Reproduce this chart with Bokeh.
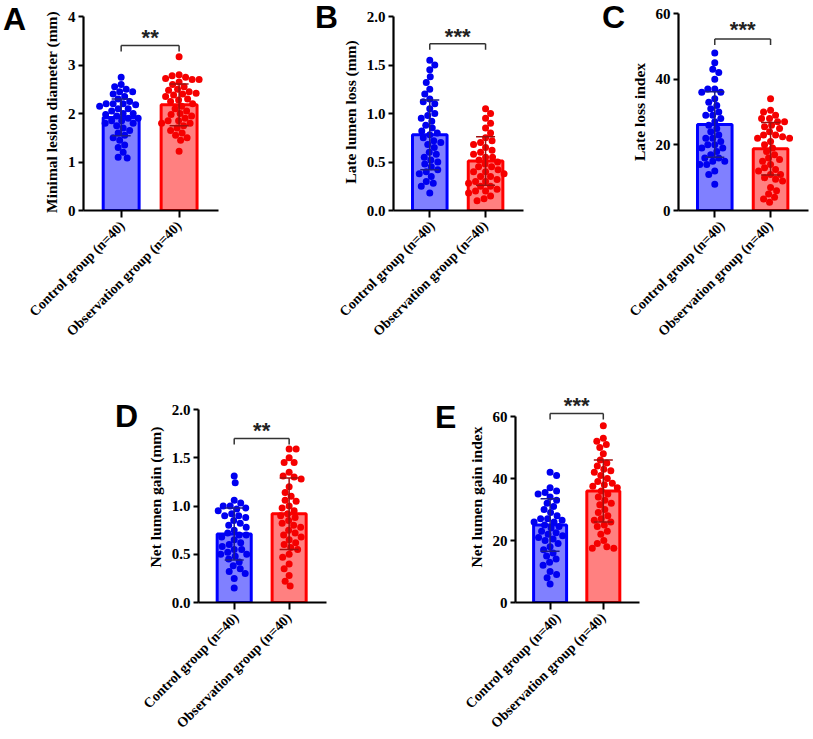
import math

from bokeh.core.properties import value
from bokeh.embed import file_html
from bokeh.layouts import column, row
from bokeh.models import Div, FixedTicker, Range1d
from bokeh.plotting import figure
from bokeh.resources import INLINE

# group names shared by every panel
groups = ["Control group (n=40)", "Observation group (n=40)"]
panel_letters = ["A", "B", "C", "D", "E"]
y_titles = ["Minimal lesion diameter (mm)", "Late lumen loss (mm)", "Late loss index",
            "Net lumen gain (mm)", "Net lumen gain index"]

# A: minimal lesion diameter (mm)
a_control = [2.75, 2.6, 2.55, 2.5, 2.45, 2.45, 2.4, 2.35, 2.3, 2.25,
             2.2, 2.2, 2.2, 2.18, 2.15, 2.1, 2.1, 2.05, 2.0, 2.0,
             1.98, 1.95, 1.9, 1.9, 1.85, 1.85, 1.8, 1.8, 1.75, 1.7,
             1.65, 1.6, 1.55, 1.5, 1.45, 1.35, 1.3, 1.2, 1.1, 1.08]
a_observation = [3.17, 2.8, 2.78, 2.75, 2.72, 2.7, 2.7, 2.65, 2.6, 2.55,
                 2.5, 2.48, 2.45, 2.42, 2.4, 2.38, 2.35, 2.3, 2.28, 2.25,
                 2.2, 2.15, 2.1, 2.05, 2.0, 1.98, 1.95, 1.9, 1.85, 1.85,
                 1.8, 1.8, 1.75, 1.7, 1.65, 1.6, 1.55, 1.5, 1.45, 1.22]
a_means = [1.92, 2.18]
a_sds = [0.38, 0.43]

# B: late lumen loss (mm)
b_control = [1.55, 1.5, 1.45, 1.38, 1.32, 1.25, 1.2, 1.15, 1.12, 1.1,
             1.05, 1.0, 0.98, 0.95, 0.92, 0.88, 0.85, 0.82, 0.8, 0.78,
             0.75, 0.72, 0.7, 0.68, 0.65, 0.6, 0.58, 0.55, 0.52, 0.5,
             0.48, 0.45, 0.42, 0.4, 0.38, 0.35, 0.3, 0.28, 0.25, 0.18]
b_observation = [1.05, 1.0, 0.95, 0.9, 0.85, 0.8, 0.75, 0.72, 0.7, 0.68,
                 0.65, 0.62, 0.6, 0.58, 0.55, 0.55, 0.52, 0.5, 0.48, 0.45,
                 0.45, 0.42, 0.4, 0.4, 0.38, 0.35, 0.35, 0.32, 0.3, 0.3,
                 0.28, 0.25, 0.25, 0.22, 0.2, 0.2, 0.18, 0.15, 0.12, 0.1]
b_means = [0.78, 0.51]
b_sds = [0.36, 0.25]

# C: late loss index
c_control = [48, 45, 43, 42, 40, 37, 37, 36, 36, 34,
             33, 32, 31, 30, 29, 29, 28, 27, 26, 25,
             24, 23, 22, 22, 21, 20, 20, 19, 19, 18,
             17, 16, 16, 15, 15, 14, 14, 12, 11, 8]
c_observation = [34, 30.5, 30, 29, 28, 28, 27, 27, 26, 25.5,
                 25, 24, 23, 23, 22.5, 22, 22, 21, 20, 19,
                 18, 17, 16, 15.5, 15, 14, 13, 12.5, 12, 11,
                 11, 10, 9.5, 9, 7, 6, 5, 4, 3.5, 2.5]
c_means = [26.2, 18.8]
c_sds = [10.0, 8.0]

# D: net lumen gain (mm)
d_control = [1.31, 1.24, 1.06, 1.03, 1.0, 1.0, 0.98, 0.97, 0.95, 0.92,
             0.9, 0.9, 0.88, 0.85, 0.82, 0.8, 0.78, 0.75, 0.72, 0.7,
             0.7, 0.68, 0.65, 0.62, 0.6, 0.58, 0.55, 0.55, 0.52, 0.5,
             0.5, 0.48, 0.45, 0.42, 0.38, 0.35, 0.32, 0.3, 0.25, 0.15]
d_observation = [1.59, 1.59, 1.5, 1.45, 1.45, 1.35, 1.31, 1.3, 1.28, 1.2,
                 1.14, 1.1, 1.06, 1.05, 1.0, 0.98, 0.95, 0.92, 0.9, 0.88,
                 0.85, 0.82, 0.8, 0.78, 0.75, 0.72, 0.7, 0.68, 0.65, 0.62,
                 0.6, 0.57, 0.55, 0.5, 0.47, 0.4, 0.35, 0.28, 0.22, 0.17]
d_means = [0.71, 0.92]
d_sds = [0.27, 0.37]

# E: net lumen gain index
e_control = [42, 41, 37, 36, 35.5, 35, 34, 33, 32, 31,
             30, 29, 28, 27, 27, 26.5, 26, 26, 25, 24.5,
             24, 23, 22.5, 22, 21.5, 21, 20.5, 20, 19, 18,
             17, 16, 15, 14, 13, 12, 10, 9, 8, 6]
e_observation = [57, 53, 52, 51, 50, 48, 46, 45, 44, 43,
                 42.5, 42, 41, 40, 39, 38.5, 38, 37.5, 37, 36,
                 35, 34, 33, 32, 31.5, 30, 29, 28, 27, 26.5,
                 26, 25, 24.5, 23, 22, 20, 19, 18, 17.5, 17.5]
e_means = [25.0, 36.0]
e_sds = [8.5, 10.0]

# axis ticks and labels
ticks_mm4 = [0, 1, 2, 3, 4]
labels_mm4 = ["0", "1", "2", "3", "4"]
ticks_mm2 = [0, 0.5, 1.0, 1.5, 2.0]
labels_mm2 = ["0.0", "0.5", "1.0", "1.5", "2.0"]
ticks_idx = [0, 20, 40, 60]
labels_idx = ["0", "20", "40", "60"]

# significance marks and bracket heights
sig_marks = ["**", "***", "***", "**", "***"]
bracket_y = [3.4, 1.72, 52.2, 1.70, 61.0]
star_y = [3.64, 1.84, 56.2, 1.82, 64.8]

BAR_FILL = ["#8080ff", "#ff8080"]
BAR_LINE = ["#0000ff", "#ff0000"]
DOT = ["#0000f0", "#f50000"]
ERR = ["#1c1c8c", "#a01010"]
SERIF = "Liberation Serif"
SANS = "Liberation Sans"
X0, X1 = 0.35, 2.68


def swarm_offsets(vals, x_px, y_px, diam=6.8):
    # simple beeswarm: nearest free horizontal spot for each dot, in pixels
    placed = []
    out = []
    for i, v in enumerate(vals):
        yp = v * y_px
        found = None
        k = 0
        while found is None:
            cands = [0.0] if k == 0 else ([k * 0.5, -k * 0.5] if i % 2 else [-k * 0.5, k * 0.5])
            for s in cands:
                if all((s - px) ** 2 + (yp - py) ** 2 >= diam * diam for px, py in placed):
                    found = s
                    break
            k += 1
        placed.append((found, yp))
        out.append(found / x_px)
    return out


def letter_div(letter, w, h, ml, mt):
    html = ('<div style="margin:%dpx 0 0 %dpx;font:bold 32px \'Liberation Sans\',Arial,sans-serif;'
            'line-height:32px;color:#000;">%s</div>' % (mt, ml, letter))
    return Div(text=html, width=w, height=h, margin=0)


def make_panel(ylabel, control, observation, means, sds, ticks, labels,
               axis_top, y_end, sig, b_y, s_y, geo):
    w, h, left, top, fr_w, fr_h = geo
    p = figure(width=w, height=h, x_range=Range1d(X0, X1), y_range=Range1d(0, y_end),
               output_backend="svg", toolbar_location=None,
               min_border_left=left, min_border_top=top,
               min_border_right=w - left - fr_w, min_border_bottom=h - top - fr_h)
    p.xgrid.visible = False
    p.ygrid.visible = False
    p.outline_line_color = None

    x_px = fr_w / (X1 - X0)
    y_px = fr_h / y_end

    p.vbar(x=[1, 2], top=means, width=0.62, fill_color=BAR_FILL,
           line_color=BAR_LINE, line_width=3)

    for g, vals in enumerate([control, observation]):
        xs = [g + 1 + o for o in swarm_offsets(vals, x_px, y_px)]
        p.scatter(xs, vals, size=7, fill_color=DOT[g], line_color=None)

    lo = [m - s for m, s in zip(means, sds)]
    hi = [m + s for m, s in zip(means, sds)]
    cap = 9.5 / x_px
    p.segment(x0=[1, 2], y0=lo, x1=[1, 2], y1=hi, line_color=ERR, line_width=1.5)
    p.segment(x0=[1 - cap, 2 - cap], y0=hi, x1=[1 + cap, 2 + cap], y1=hi,
              line_color=ERR, line_width=1.5)
    p.segment(x0=[1 - cap, 2 - cap], y0=lo, x1=[1 + cap, 2 + cap], y1=lo,
              line_color=ERR, line_width=1.5)

    # significance bracket
    tick = 6 / y_px
    p.segment(x0=[1, 1, 2], y0=[b_y, b_y, b_y], x1=[2, 1, 2], y1=[b_y, b_y - tick, b_y - tick],
              line_color="#333333", line_width=1.5)
    p.text(x=[1.5], y=[s_y - 4 / y_px], text=[sig], text_font=value(SANS),
           text_font_style="bold", text_font_size="22px", text_align="center",
           text_baseline="middle", text_color="#222222")

    p.xaxis.ticker = FixedTicker(ticks=[1, 2])
    p.xaxis.major_label_overrides = {1: groups[0], 2: groups[1]}
    p.xaxis.major_label_orientation = math.pi / 4
    p.xaxis.major_label_text_font_size = "14px"
    p.xaxis.major_tick_out = 7
    p.xaxis.major_label_standoff = 6

    p.yaxis.ticker = FixedTicker(ticks=ticks)
    p.yaxis.major_label_overrides = dict(zip(ticks, labels))
    p.yaxis.bounds = (0, axis_top)
    p.yaxis.major_label_text_font_size = "15px"
    p.yaxis.major_tick_out = 5
    p.yaxis.major_label_standoff = 3
    p.yaxis.axis_label = ylabel
    p.yaxis.axis_label_text_font = SERIF
    p.yaxis.axis_label_text_font_style = "bold"
    p.yaxis.axis_label_text_font_size = "15.5px"
    p.yaxis.axis_label_text_color = "black"
    p.yaxis.axis_label_standoff = 5

    p.axis.axis_line_width = 2.2
    p.axis.axis_line_color = "black"
    p.axis.major_tick_line_width = 2
    p.axis.major_tick_line_color = "black"
    p.axis.major_tick_in = 0
    p.axis.minor_tick_line_color = None
    p.axis.major_label_text_font = SERIF
    p.axis.major_label_text_font_style = "bold"
    p.axis.major_label_text_color = "black"
    return p


# top row: frames 13..210 px; bottom row: frames 391..602 px
# geo = width, height, left border, top border, frame width, frame height
pa = make_panel(y_titles[0], a_control, a_observation, a_means, a_sds,
                ticks_mm4, labels_mm4, 4, 197 / 48.5, sig_marks[0], bracket_y[0], star_y[0],
                (274, 360, 57, 13, 135, 197))
pb = make_panel(y_titles[1], b_control, b_observation, b_means, b_sds,
                ticks_mm2, labels_mm2, 2, 197 / 97.0, sig_marks[1], bracket_y[1], star_y[1],
                (224, 360, 57, 13, 130, 197))
pc = make_panel(y_titles[2], c_control, c_observation, c_means, c_sds,
                ticks_idx, labels_idx, 60, 60, sig_marks[2], bracket_y[2], star_y[2],
                (187, 360, 52, 13, 130, 197))
pd_ = make_panel(y_titles[3], d_control, d_observation, d_means, d_sds,
                 ticks_mm2, labels_mm2, 2, 211 / 96.5, sig_marks[3], bracket_y[3], star_y[3],
                 (290, 379, 58, 31, 128, 211))
pe = make_panel(y_titles[4], e_control, e_observation, e_means, e_sds,
                ticks_idx, labels_idx, 60, 211 / 3.1, sig_marks[4], bracket_y[4], star_y[4],
                (238, 379, 53, 31, 124, 211))

top = row(letter_div(panel_letters[0], 26, 360, 3, 3), pa,
          letter_div(panel_letters[1], 36, 360, 15, 1), pb,
          letter_div(panel_letters[2], 66, 360, 42, 1), pc)
bottom = row(letter_div(panel_letters[3], 140, 379, 115, 40), pd_,
             letter_div(panel_letters[4], 32, 379, 5, 41), pe)
page = column(top, bottom)
open("out.html", "w").write(file_html(page, INLINE))
